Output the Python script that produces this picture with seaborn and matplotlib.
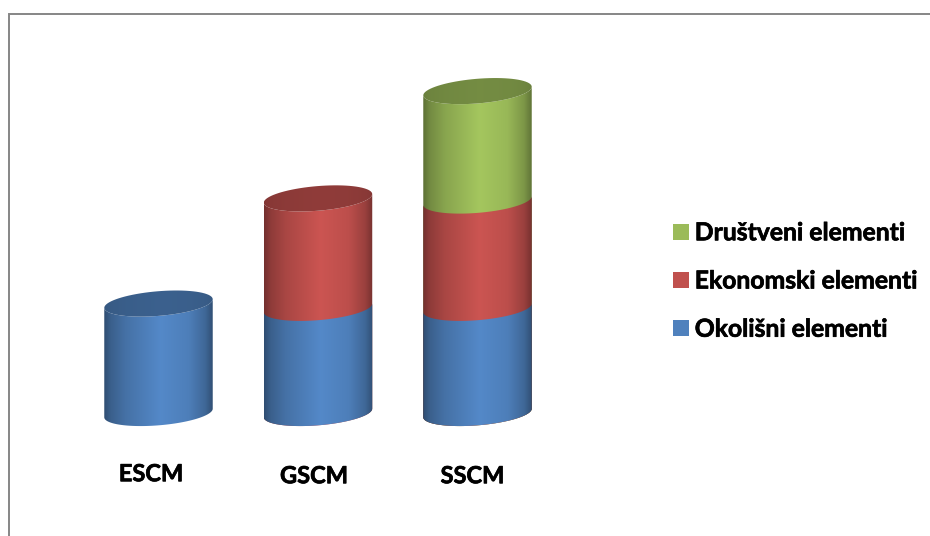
import numpy as np
import pandas as pd
import matplotlib
matplotlib.use('Agg')
import matplotlib.pyplot as plt
import matplotlib.patheffects as pe
import seaborn as sns
from matplotlib.colors import to_rgb
from matplotlib.patches import Patch, Rectangle
from matplotlib.path import Path
from matplotlib.transforms import ScaledTranslation

# Data
models = ['ESCM', 'GSCM', 'SSCM']
okolisni = [1.02, 0.98, 0.98]
ekonomski = [0, 1.02, 1.0]
drustveni = [0, 0, 1.02]
series_names = ['Okolišni elementi', 'Ekonomski elementi', 'Društveni elementi']
series_colors = ['#4f81bd', '#c0504d', '#9bbb59']

sns.set_theme(style='white')
plt.rcParams['font.family'] = ['Lato', 'DejaVu Sans']

W, H = 930, 536
fig = plt.figure(figsize=(W / 100, H / 100), dpi=100, facecolor='white')
ax = fig.add_axes([78.75 / W, (H - 440) / H, 478.5 / W, 400 / H])

# Cumulative totals, largest layer first so the lower ones paint over it
df = pd.DataFrame({'model': models, 'Okolišni elementi': okolisni,
                   'Ekonomski elementi': ekonomski, 'Društveni elementi': drustveni})
df[series_names] = df[series_names].cumsum(axis=1)
raw = pd.DataFrame({'Okolišni elementi': okolisni, 'Ekonomski elementi': ekonomski,
                    'Društveni elementi': drustveni})

CAP_B = 0.115
CAP_TILT = 0.04
ts = [0, 0.06, 0.2, 0.52, 0.78, 0.93, 1]
body_shade = [0.6, 0.74, 0.88, 1.06, 0.98, 0.8, 0.62]
cap_shade = [0.68, 0.71, 0.73, 0.75, 0.74, 0.72, 0.69]


def arc(xc, a, yc, t0, t1):
    t = np.linspace(t0, t1, 80)
    return np.column_stack([xc + a * np.cos(t), yc + CAP_B * np.sin(t) + CAP_TILT * np.cos(t)])


def shaded(color, stops):
    u = np.linspace(0, 1, 256)
    rgb = np.clip(np.outer(np.interp(u, ts, stops), to_rgb(color)), 0, 1)
    return rgb[np.newaxis, :, :]


tops = df[series_names].where(raw[series_names] > 0).max(axis=1).values
z = 2
for name, color in reversed(list(zip(series_names, series_colors))):
    layer = df[raw[name] > 0]
    n_before = len(ax.patches)
    sns.barplot(data=layer, x='model', y=name, order=models, color=color,
                width=0.68, ax=ax, errorbar=None)
    for bar in ax.patches[n_before:]:
        h = bar.get_height()
        if not np.isfinite(h) or h <= 0:
            continue
        x0, w = bar.get_x(), bar.get_width()
        xc, a = x0 + w / 2, w / 2
        body = np.vstack([arc(xc, a, 0, np.pi, 2 * np.pi), arc(xc, a, h, 2 * np.pi, np.pi)])
        im = ax.imshow(shaded(color, body_shade), extent=[x0, x0 + w, -0.3, h + 0.3], aspect='auto',
                       interpolation='bilinear', zorder=z)
        im.set_clip_path(Path(np.vstack([body, body[0]]), closed=True), transform=ax.transData)
        z += 1
        # top cap only where this layer ends the stack
        if np.isclose(h, tops[int(round(xc))]):
            cap = arc(xc, a, h, 0, 2 * np.pi)
            im = ax.imshow(shaded(color, cap_shade), extent=[x0, x0 + w, h - 0.3, h + 0.3],
                           aspect='auto', interpolation='bilinear', zorder=100 + z)
            im.set_clip_path(Path(cap, closed=True), transform=ax.transData)
    for bar in ax.patches[n_before:]:
        bar.set_visible(False)

ax.set_xlim(-0.5, 2.5)
ax.set_ylim(-27 / 107.3, 373 / 107.3)
ax.set_xlabel('')
ax.set_ylabel('')
ax.set_yticks([])
ax.set_xticks(range(len(models)))
ax.set_xticklabels(models, fontsize=17, fontweight='bold', color='black')
ax.tick_params(axis='x', length=0, pad=16)
thicker = [pe.withStroke(linewidth=0.5, foreground='black')]
for lab, dx, dy in zip(ax.get_xticklabels(), [-7.5, -4, -5], [0, -2, -2]):
    lab.set_transform(lab.get_transform() + ScaledTranslation(dx / 100, dy / 100, fig.dpi_scale_trans))
    lab.set_path_effects(thicker)
sns.despine(ax=ax, left=True, bottom=True)

# Legend reads top to bottom against the stacking order
handles = [Patch(facecolor=c, edgecolor='none') for c in reversed(series_colors)]
leg = fig.legend(handles, list(reversed(series_names)), loc='center left',
                 bbox_to_anchor=(651 / W, 1 - 281 / H), frameon=False,
                 prop={'size': 17.8, 'weight': 'bold'}, labelspacing=1.02,
                 handlelength=0.62, handleheight=0.62, handletextpad=0.25, labelcolor='black')
for t in leg.get_texts():
    t.set_path_effects(thicker)

# Grey outer frame, cut by the right and bottom edges of the image
fig.add_artist(Rectangle((9 / W, -0.1), 1.2, 1.1 - 13.5 / H, transform=fig.transFigure,
                         facecolor='none', edgecolor='#868686', linewidth=1.4))

fig.savefig('out.png', dpi=100, facecolor='white')
